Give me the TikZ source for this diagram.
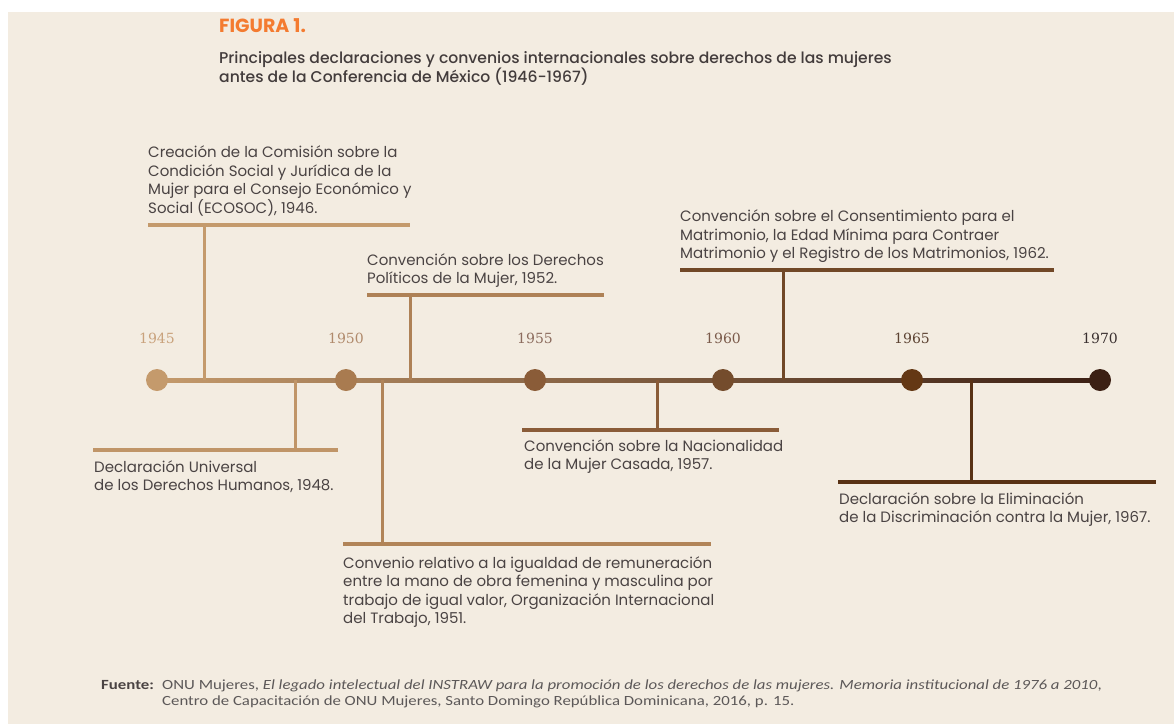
\documentclass[tikz,border=0pt]{standalone}
\usepackage{fontspec}
\setmainfont{Poppins}
\newfontfamily\medfont{Poppins Medium}
\newfontfamily\yearfont{DejaVu Serif}
\newfontfamily\notefont{Carlito}[FakeStretch=1.2]
\usetikzlibrary{positioning}
\definecolor{fondo}{HTML}{F3ECE1}
\definecolor{texto}{HTML}{4A4343}
\definecolor{naranja}{HTML}{F47B30}
\definecolor{nota}{HTML}{5C5858}
% colores de la linea de tiempo
\definecolor{c45}{HTML}{C49A6C}
\definecolor{c50}{HTML}{A97B50}
\definecolor{c55}{HTML}{8A5C38}
\definecolor{c60}{HTML}{744C2C}
\definecolor{c65}{HTML}{643814}
\definecolor{c70}{HTML}{3C2014}
\definecolor{a45}{HTML}{C9A27C}
\definecolor{a50}{HTML}{B08A6C}
\definecolor{a55}{HTML}{8C6C5E}
\definecolor{a60}{HTML}{7A5A4A}
\definecolor{a65}{HTML}{5C4232}
\definecolor{a70}{HTML}{3A3030}

\begin{document}
\begin{tikzpicture}[x=1pt,y=-1pt,
    evento/.style={inner sep=0pt,align=left,text=texto,font=\fontsize{15}{18.5}\selectfont},
    barra/.style={line width=4pt},
    tallo/.style={line width=3pt},
    punto/.style={circle,inner sep=0pt,minimum size=22pt}]
    \useasboundingbox (0,0) rectangle (1174,724);
    \fill[white] (0,0) rectangle (1174,724);
    \fill[fondo] (8,12) rectangle (1174,724);

    % titulo
    \node[anchor=base west,inner sep=0pt,text=naranja,font=\bfseries\fontsize{19}{21}\selectfont] (fig) at (219,32) {FIGURA 1.};
    \node[anchor=north west,inner sep=0pt,align=left,text=texto!90!black,font=\medfont\fontsize{15.6}{18.5}\selectfont] (tit) at (219,51)
        {Principales declaraciones y convenios internacionales sobre derechos de las mujeres\\antes de la Conferencia de México (1946-1967)};

    % linea de tiempo
    \coordinate (ini) at (157,380); \coordinate (fin) at (1100,380);
    \shade[left color=c45,right color=c70] ([yshift=2pt]ini) rectangle ([yshift=-2pt]fin);
    \foreach \n/\x/\c in {45/157/c45,50/346/c50,55/535/c55,60/723/c60,65/912/c65,70/1100/c70}{
        \node[punto,fill=\c] (d\n) at (\x,380) {};
        \node[font=\yearfont\fontsize{14}{16}\selectfont,text=a\n] (y\n) at (\x,338) {19\n};
    }

    % 1946
    \coordinate (b1l) at (148,225); \coordinate (b1r) at (410,225); \coordinate (e1) at (204,380);
    \draw[barra,color=c45] (b1l) -- (b1r);
    \draw[tallo,color=c45] (e1) -- (e1 |- b1l);
    \node[evento,above right=9pt and 0pt of b1l] (t1) {Creación de la Comisión sobre la\\Condición Social y Jurídica de la\\Mujer para el Consejo Económico y\\Social (ECOSOC), 1946.};

    % 1948
    \coordinate (b2l) at (93,450); \coordinate (b2r) at (338,450); \coordinate (e2) at (295,380);
    \draw[barra,color=c45!85!c50] (b2l) -- (b2r);
    \draw[tallo,color=c45!85!c50] (e2) -- (e2 |- b2l);
    \node[evento,below right=10pt and 1pt of b2l] (t2) {Declaración Universal\\de los Derechos Humanos, 1948.};

    % 1952
    \coordinate (b3l) at (367,295); \coordinate (b3r) at (604,295); \coordinate (e3) at (410,380);
    \draw[barra,color=c50!80!c45] (b3l) -- (b3r);
    \draw[tallo,color=c50!80!c45] (e3) -- (e3 |- b3l);
    \node[evento,above right=7pt and 0pt of b3l] (t3) {Convención sobre los Derechos\\Políticos de la Mujer, 1952.};

    % 1951
    \coordinate (b4l) at (343,544); \coordinate (b4r) at (711,544); \coordinate (e4) at (382,380);
    \draw[barra,color=c50!70!c45] (b4l) -- (b4r);
    \draw[tallo,color=c50!70!c45] (e4) -- (e4 |- b4l);
    \node[evento,below right=12pt and 0pt of b4l] (t4) {Convenio relativo a la igualdad de remuneración\\entre la mano de obra femenina y masculina por\\trabajo de igual valor, Organización Internacional\\del Trabajo, 1951.};

    % 1957
    \coordinate (b5l) at (522,430); \coordinate (b5r) at (779,430); \coordinate (e5) at (657,380);
    \draw[barra,color=c55] (b5l) -- (b5r);
    \draw[tallo,color=c55] (e5) -- (e5 |- b5l);
    \node[evento,below right=9pt and 2pt of b5l] (t5) {Convención sobre la Nacionalidad\\de la Mujer Casada, 1957.};

    % 1962
    \coordinate (b6l) at (680,270); \coordinate (b6r) at (1054,270); \coordinate (e6) at (783,380);
    \draw[barra,color=c60!80!c65] (b6l) -- (b6r);
    \draw[tallo,color=c60!80!c65] (e6) -- (e6 |- b6l);
    \node[evento,above right=7pt and 0pt of b6l] (t6) {Convención sobre el Consentimiento para el\\Matrimonio, la Edad Mínima para Contraer\\Matrimonio y el Registro de los Matrimonios, 1962.};

    % 1967
    \coordinate (b7l) at (838,482); \coordinate (b7r) at (1156,482); \coordinate (e7) at (971,380);
    \draw[barra,color=c65!70!c70] (b7l) -- (b7r);
    \draw[tallo,color=c65!70!c70] (e7) -- (e7 |- b7l);
    \node[evento,below right=10pt and 1pt of b7l] (t7) {Declaración sobre la Eliminación\\de la Discriminación contra la Mujer, 1967.};

    % fuente
    \node[anchor=base west,inner sep=0pt,text=texto,font=\notefont\bfseries\fontsize{14}{16}\selectfont] (fte) at (101,689) {Fuente:};
    \node[anchor=base west,inner sep=0pt,align=left,text=nota,font=\notefont\fontsize{14}{16}\selectfont] (ref) at (162,705)
        {ONU Mujeres, \textit{El legado intelectual del INSTRAW para la promoción de los derechos de las mujeres. Memoria institucional de 1976 a 2010},\\Centro de Capacitación de ONU Mujeres, Santo Domingo República Dominicana, 2016, p. 15.};
\end{tikzpicture}
\end{document}
